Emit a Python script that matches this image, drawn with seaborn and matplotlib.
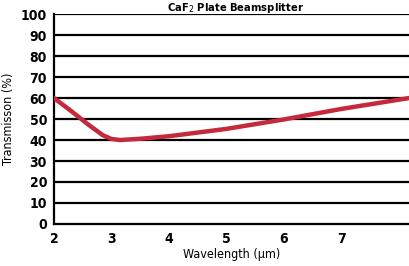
import numpy as np
import pandas as pd
import seaborn as sns
import matplotlib.pyplot as plt

# values
wavelength = [2.0, 2.3, 2.6, 2.85, 3.0, 3.15, 3.5, 4.0, 5.0, 6.0, 7.0, 8.18]
transmission = [60.0, 53.8, 47.3, 42.3, 40.5, 40.0, 40.6, 41.8, 45.3, 49.8, 54.8, 60.0]
x_ticks = [2, 3, 4, 5, 6, 7]
y_ticks = list(range(0, 101, 10))

df = pd.DataFrame({'Wavelength': wavelength, 'Transmission': transmission})

sns.set_style('white')
plt.rcParams['font.family'] = ['DejaVu Sans']
plt.rcParams['text.color'] = 'black'

fig = plt.figure(figsize=(4.09, 2.66), dpi=100)
ax = fig.add_axes([0.132, 0.158, 0.868, 0.789])

for v in y_ticks[1:]:
    ax.axhline(v, color='black', lw=1.6, zorder=1)

sns.lineplot(data=df, x='Wavelength', y='Transmission', color='#c42a3c', lw=3.2, ax=ax, zorder=3)

ax.set_xlim(2, 8.18)
ax.set_ylim(0, 100)
ax.set_xticks(x_ticks)
ax.set_yticks(y_ticks)
tfont = dict(family='DejaVu Sans', stretch='condensed', weight='bold', size=10, color='black')
ax.set_xticklabels([str(t) for t in x_ticks], fontdict=tfont)
ax.set_yticklabels([str(t) for t in y_ticks], fontdict=tfont)
ax.tick_params(axis='both', direction='out', length=3, width=1.2, color='black', pad=2)
ax.tick_params(axis='x', pad=3)

for s in ['top', 'right']:
    ax.spines[s].set_visible(False)
for s in ['left', 'bottom']:
    ax.spines[s].set_color('black')
    ax.spines[s].set_linewidth(1.6)

lfont = dict(family='DejaVu Sans', stretch='condensed', size=9, color='black')
ax.set_xlabel('Wavelength (µm)', fontdict=lfont, labelpad=1)
ax.set_ylabel('Transmisson (%)', fontdict=lfont, labelpad=4)

fig.text(0.577, 0.997, 'CaF$_2$ Plate Beamsplitter', ha='center', va='top',
         fontsize=8, fontweight='bold', family='DejaVu Sans', stretch='condensed',
         color='black')

fig.savefig('out.png', dpi=100)
